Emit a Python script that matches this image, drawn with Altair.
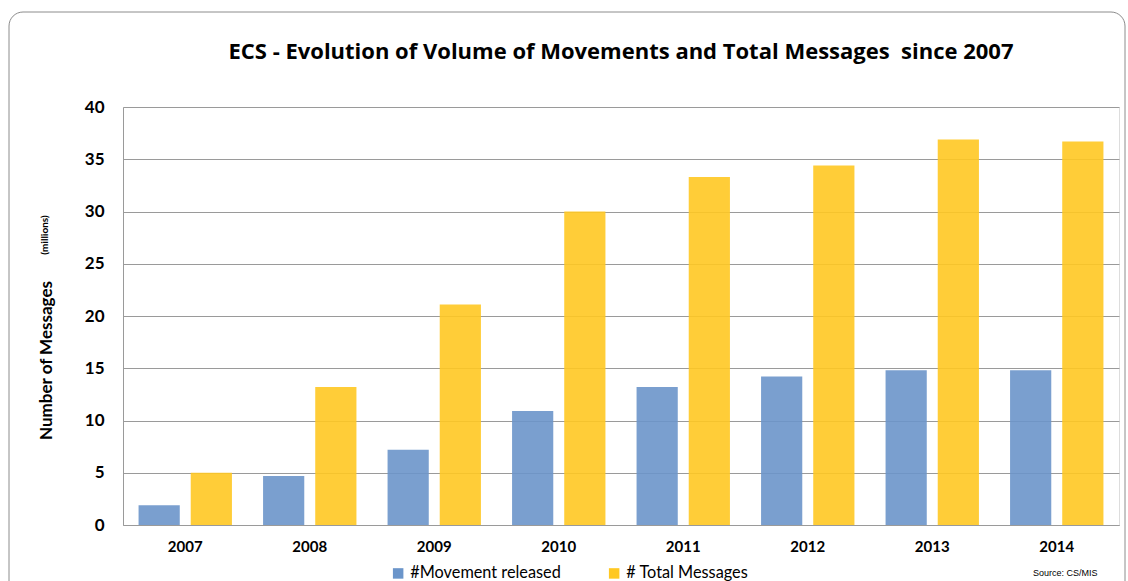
import altair as alt
import pandas as pd

years = ["2007", "2008", "2009", "2010", "2011", "2012", "2013", "2014"]
movements = [1.9, 4.7, 7.2, 10.9, 13.2, 14.2, 14.8, 14.8]
total_messages = [5.0, 13.2, 21.1, 30.0, 33.3, 34.4, 36.9, 36.7]
series_names = ["#Movement released", "# Total Messages"]
series_colors = ["#6B95CA", "#FFC822"]

rows = []
for i, y in enumerate(years):
    rows.append({"year": y, "series": series_names[0], "value": movements[i]})
    rows.append({"year": y, "series": series_names[1], "value": total_messages[i]})
df = pd.DataFrame(rows)

FONT = "Lato"

bars = alt.Chart(df).mark_bar(opacity=0.9).encode(
    x=alt.X("year:N", sort=years,
            scale=alt.Scale(paddingInner=0.25, paddingOuter=0.125),
            axis=alt.Axis(title=None, labelAngle=0, labelFont=FONT, labelFontSize=15,
                          labelFontWeight="bold", labelColor="#000000", labelPadding=14,
                          ticks=False, domainColor="#9A9A9A", grid=False)),
    xOffset=alt.XOffset("series:N", sort=series_names,
                        scale=alt.Scale(paddingInner=0.21, paddingOuter=0)),
    y=alt.Y("value:Q", scale=alt.Scale(domain=[0, 40], nice=False),
            axis=alt.Axis(title="Number of Messages", titleFont=FONT, titleFontSize=17,
                          titleFontWeight="bold", titleColor="#000000",
                          titleX=-77, titleY=253, titleAlign="center", titleBaseline="middle",
                          titleAngle=270,
                          values=[0, 5, 10, 15, 20, 25, 30, 35, 40],
                          labelFont=FONT, labelFontSize=17, labelFontWeight="bold",
                          labelColor="#000000", labelPadding=19, ticks=False,
                          domainColor="#9A9A9A", gridColor="#9A9A9A", gridWidth=1)),
    color=alt.Color("series:N", sort=series_names,
                    scale=alt.Scale(domain=series_names, range=series_colors),
                    legend=alt.Legend(title=None, orient="none", direction="horizontal",
                                      legendX=267, legendY=458, symbolType="square",
                                      symbolSize=110, symbolOpacity=1, symbolStrokeWidth=0,
                                      labelFont=FONT, labelFontSize=16.3, labelColor="#000000",
                                      columnPadding=45, labelOffset=4)),
)

millions = alt.Chart(pd.DataFrame({"t": ["(millions)"]})).mark_text(
    angle=270, font=FONT, fontSize=10, fontWeight="bold", color="#000000"
).encode(x=alt.value(-78), y=alt.value(128), text="t:N")

source = alt.Chart(pd.DataFrame({"t": ["Source: CS/MIS"]})).mark_text(
    font="Liberation Sans", fontSize=9, color="#000000", align="left"
).encode(x=alt.value(910), y=alt.value(466), text="t:N")

frame = alt.Chart(pd.DataFrame({"a": [0]})).mark_rect(
    fill=None, stroke="#8C8C8C", strokeWidth=1, cornerRadius=14, clip=False
).encode(x=alt.value(-114), x2=alt.value(1002), y=alt.value(-95), y2=alt.value(500))

chart = alt.layer(frame, bars, millions, source).properties(
    width=996, height=418,
    title=alt.TitleParams("ECS - Evolution of Volume of Movements and Total Messages\u00a0\u00a0since 2007",
                          font="Open Sans", fontSize=22, fontWeight="bold", color="#000000",
                          anchor="middle", offset=-52),
    autosize=alt.AutoSizeParams(type="none"),
    padding={"left": 123, "top": 107, "right": 9, "bottom": 56},
).configure_view(stroke=None).configure(background="#FFFFFF")

chart.save("out.html", embed_options={"renderer": "svg", "actions": False})
